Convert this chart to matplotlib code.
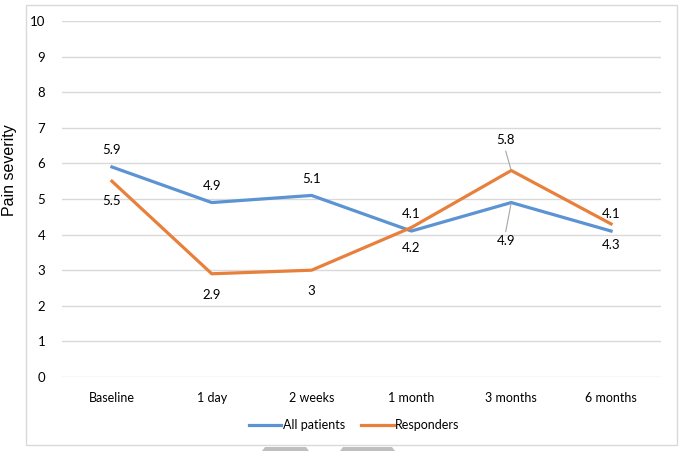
import matplotlib
matplotlib.use("Agg")
import matplotlib.pyplot as plt
from matplotlib.patches import Rectangle, Polygon

categories = ["Baseline", "1 day", "2 weeks", "1 month", "3 months", "6 months"]
all_patients = [5.9, 4.9, 5.1, 4.1, 4.9, 4.1]
responders = [5.5, 2.9, 3.0, 4.2, 5.8, 4.3]
all_labels = ["5.9", "4.9", "5.1", "4.1", "4.9", "4.1"]
resp_labels = ["5.5", "2.9", "3", "4.2", "5.8", "4.3"]
y_ticks = list(range(0, 11))

BLUE = "#5b93d3"
ORANGE = "#e8803c"
FONT = ["Lato", "DejaVu Sans"]

fig = plt.figure(figsize=(6.8, 4.51), dpi=100)
W, H = 680, 451
ax = fig.add_axes([62 / W, 74 / H, (661 - 62) / W, (377 - 21) / H])

x = list(range(len(categories)))
ax.plot(x, all_patients, color=BLUE, lw=2.3, solid_joinstyle="round", zorder=3)
ax.plot(x, responders, color=ORANGE, lw=2.3, solid_joinstyle="round", zorder=3)

ax.set_xlim(-0.5, len(categories) - 0.5)
ax.set_ylim(0, 10)
ax.set_yticks(y_ticks)
ax.set_xticks(x)
ax.set_xticklabels(categories, fontsize=9, family=FONT, color="#000000")
ax.set_yticklabels([str(t) for t in y_ticks], fontsize=9.5, family=FONT, color="#000000")
ax.tick_params(axis="both", length=0)
ax.tick_params(axis="y", pad=12)
ax.tick_params(axis="x", pad=11)
ax.grid(axis="y", color="#d9d9d9", lw=1.0)
ax.set_axisbelow(True)
for s in ax.spines.values():
    s.set_visible(False)

# data labels: offsets in points (above +, below -)
all_off = [12, 12, 12, 12, -28, 12]
resp_off = [-14, -15, -15, -15, 22, -15]
all_dx = [0, 0, 0, 0, -4, 0]
resp_dx = [0, 0, 0, 0, -4, 0]
for i in x:
    ax.annotate(all_labels[i], (i, all_patients[i]), xytext=(all_dx[i], all_off[i]),
                textcoords="offset points", ha="center", va="center",
                fontsize=9.5, family=FONT, zorder=4)
    ax.annotate(resp_labels[i], (i, responders[i]), xytext=(resp_dx[i], resp_off[i]),
                textcoords="offset points", ha="center", va="center",
                fontsize=9.5, family=FONT, zorder=4)
# leader lines at 3 months
ax.annotate("", (4, responders[4]), xytext=(-4, 14), textcoords="offset points",
            arrowprops=dict(arrowstyle="-", color="#a6a6a6", lw=0.8, shrinkA=0, shrinkB=1))
ax.annotate("", (4, all_patients[4]), xytext=(-4, -21), textcoords="offset points",
            arrowprops=dict(arrowstyle="-", color="#a6a6a6", lw=0.8, shrinkA=0, shrinkB=1))

fig.text(10 / W, 1 - 170 / H, "Pain severity", rotation=90, ha="center", va="center",
         fontsize=11.5, family=["Liberation Sans", "DejaVu Sans"])

leg = ax.legend(["All patients", "Responders"], loc="center",
                bbox_to_anchor=(354 / W, 1 - 425 / H), bbox_transform=fig.transFigure,
                ncol=2, frameon=False, prop={"family": FONT, "size": 9},
                handlelength=2.6, handletextpad=0.1, columnspacing=1.3)

# outer chart frame
fig.patches.append(Rectangle((26 / W, 1 - 445 / H), (677 - 26) / W, (445 - 5) / H,
                             transform=fig.transFigure, fill=False, ec="#d9d9d9", lw=1.0))
# gray tabs at bottom edge
for x0, x1 in [(262, 309), (340, 395)]:
    fig.patches.append(Polygon([(x0 / W, 0), (x1 / W, 0), ((x1 - 3) / W, 4 / H), ((x0 + 3) / W, 4 / H)],
                               closed=True, transform=fig.transFigure, fc="#bfbfbf", ec="none"))

fig.savefig("out.png", dpi=100, facecolor="white")
